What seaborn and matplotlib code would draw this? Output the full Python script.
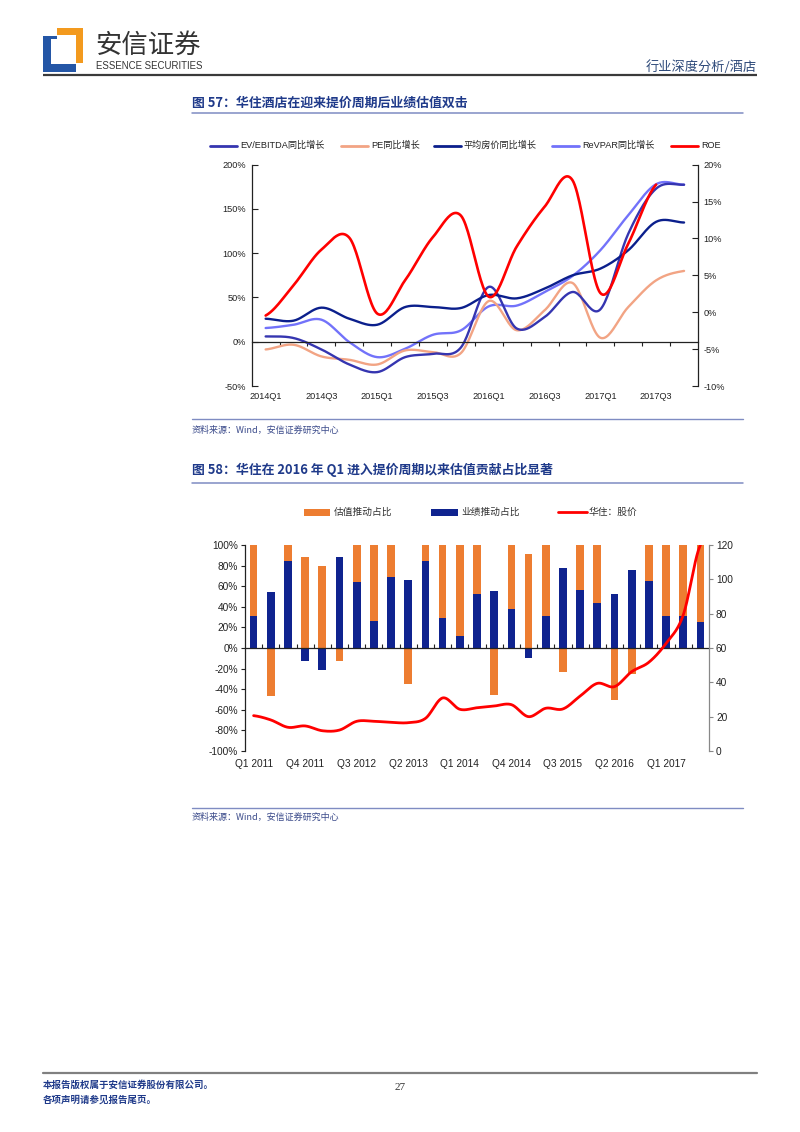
import numpy as np
import matplotlib
matplotlib.use("Agg")
import matplotlib.pyplot as plt
import seaborn as sns
from matplotlib.patches import Rectangle
from matplotlib.lines import Line2D

sns.set_style("ticks")
plt.rcParams["font.family"] = ["Liberation Sans", "Noto Sans CJK SC", "DejaVu Sans"]
plt.rcParams["axes.unicode_minus"] = False

# ---------------- Chart 1 data (图57) ----------------
quarters1 = ["2014Q1", "2014Q2", "2014Q3", "2014Q4", "2015Q1", "2015Q2", "2015Q3", "2015Q4",
             "2016Q1", "2016Q2", "2016Q3", "2016Q4", "2017Q1", "2017Q2", "2017Q3", "2017Q4"]
xlabels1 = ["2014Q1", "2014Q3", "2015Q1", "2015Q3", "2016Q1", "2016Q3", "2017Q1", "2017Q3"]
ev_ebitda_yoy = [6.0, 4.2, -8.7, -25.7, -34.3, -17.4, -13.6, -6.5, 62.0, 15.0, 27.9, 56.2, 36.6, 122.0, 173.0, 177.4]
pe_yoy = [-8.7, -3.4, -16.6, -20.4, -25.7, -9.8, -11.7, -12.8, 46.0, 13.0, 35.5, 66.4, 4.5, 39.2, 69.4, 80.0]
adr_yoy = [26.0, 23.8, 38.5, 26.0, 19.2, 39.2, 39.2, 38.1, 52.8, 49.0, 60.0, 75.0, 82.6, 103.4, 135.5, 134.7]
revpar_yoy = [15.5, 19.2, 24.9, -0.4, -17.4, -7.9, 7.9, 12.8, 40.0, 40.8, 56.2, 74.3, 103.4, 143.0, 178.0, 177.4]
roe = [-0.45, 3.66, 8.49, 10.1, -0.18, 4.34, 10.2, 13.1, 2.1, 8.9, 14.3, 17.9, 2.6, 9.3, 17.3]
left_ticks1 = [-50, 0, 50, 100, 150, 200]
right_ticks1 = [-10, -5, 0, 5, 10, 15, 20]

# ---------------- Chart 2 data (图58) ----------------
quarters2 = ["Q1 2011", "Q2 2011", "Q3 2011", "Q4 2011", "Q1 2012", "Q2 2012", "Q3 2012", "Q4 2012",
             "Q1 2013", "Q2 2013", "Q3 2013", "Q4 2013", "Q1 2014", "Q2 2014", "Q3 2014", "Q4 2014",
             "Q1 2015", "Q2 2015", "Q3 2015", "Q4 2015", "Q1 2016", "Q2 2016", "Q3 2016", "Q4 2016",
             "Q1 2017", "Q2 2017", "Q3 2017"]
valuation_share = [69, -47, 16, 88, 80, -13, 36, 74, 31, -35, 16, 71, 88, 48, -46, 62,
                   91, 69, -23, 44, 56, -50, -25, 35, 69, 69, 75]
performance_share = [31, 54, 84, -13, -21, 88, 64, 26, 69, 66, 84, 29, 12, 52, 55, 38,
                     -10, 31, 78, 56, 44, 52, 76, 65, 31, 31, 25]
price = [20.6, 18.1, 13.8, 14.6, 11.8, 12.2, 17.3, 17.3, 16.7, 16.5, 19.0, 30.9, 24.3, 25.2, 26.2, 27.0,
         20.0, 24.9, 24.5, 32.0, 39.4, 37.5, 46.2, 51.7, 62.7, 79.2, 120.0]
left_ticks2 = [-100, -80, -60, -40, -20, 0, 20, 40, 60, 80, 100]
right_ticks2 = [0, 20, 40, 60, 80, 100, 120]


def smooth(vals, n=24):
    """Catmull-Rom curve through the points (like Excel's smoothed line)."""
    y = np.asarray(vals, float)
    m = len(y)
    yp = np.concatenate([[y[0]], y, [y[-1]]])
    t = np.linspace(0, 1, n, endpoint=False)
    xs, ys = [], []
    for i in range(m - 1):
        p0, p1, p2, p3 = yp[i], yp[i + 1], yp[i + 2], yp[i + 3]
        seg = 0.5 * (2 * p1 + (-p0 + p2) * t + (2 * p0 - 5 * p1 + 4 * p2 - p3) * t ** 2
                     + (-p0 + 3 * p1 - 3 * p2 + p3) * t ** 3)
        xs.append(i + t)
        ys.append(seg)
    xs.append(np.array([m - 1.0]))
    ys.append(np.array([y[-1]]))
    return np.concatenate(xs), np.concatenate(ys)


W, H = 800, 1132
fig = plt.figure(figsize=(W / 100, H / 100), dpi=100)

# ---------------- page overlay (pixel coordinates) ----------------
ov = fig.add_axes([0, 0, 1, 1])
ov.set_xlim(0, W)
ov.set_ylim(H, 0)
ov.axis("off")

cjk = ["Noto Sans CJK SC", "DejaVu Sans"]
title_blue = "#1F3A8A"
rule_blue = "#7F8CC2"

# logo
logo_blue = "#2456A6"
logo_orange = "#F39A1E"
ov.add_patch(Rectangle((43, 36), 8, 36, color=logo_blue, lw=0))
ov.add_patch(Rectangle((43, 64), 33, 8, color=logo_blue, lw=0))
ov.add_patch(Rectangle((43, 36), 14, 3, color=logo_blue, lw=0))
ov.add_patch(Rectangle((57, 28), 26, 7, color=logo_orange, lw=0))
ov.add_patch(Rectangle((76, 28), 7, 35, color=logo_orange, lw=0))
ov.text(95, 45, "安信证券", family=cjk, fontsize=19, color="#333333", va="center", ha="left")
ov.text(96, 66, "ESSENCE SECURITIES", family=["Liberation Sans"],
        fontsize=6.9, color="#333333", va="center", ha="left")
ov.text(757, 67, "行业深度分析/酒店", family=cjk, fontsize=9.5, color="#2E4A7A", va="center", ha="right")
ov.plot([43, 757], [75, 75], color="#3A3A3A", lw=1.6, solid_capstyle="butt")

# titles, rules, sources
ov.text(192, 103, "图 57：华住酒店在迎来提价周期后业绩估值双击", family=cjk, fontsize=9.3,
        fontweight="bold", color=title_blue, va="center", ha="left")
ov.plot([192, 743], [113, 113], color=rule_blue, lw=1.1)
ov.plot([192, 743], [419, 419], color=rule_blue, lw=1.0)
ov.text(192, 430, "资料来源：Wind，安信证券研究中心", family=cjk, fontsize=6.5,
        color="#3A4A8A", va="center", ha="left", style="italic")

ov.text(192, 470, "图 58：华住在 2016 年 Q1 进入提价周期以来估值贡献占比显著", family=cjk, fontsize=9.3,
        fontweight="bold", color=title_blue, va="center", ha="left")
ov.plot([192, 743], [483, 483], color=rule_blue, lw=1.1)
ov.plot([192, 743], [808, 808], color=rule_blue, lw=1.0)
ov.text(192, 817, "资料来源：Wind，安信证券研究中心", family=cjk, fontsize=6.5,
        color="#3A4A8A", va="center", ha="left", style="italic")

# footer
ov.plot([43, 757], [1073, 1073], color="#808080", lw=1.6)
ov.text(43, 1085, "本报告版权属于安信证券股份有限公司。", family=cjk, fontsize=6.8,
        fontweight="bold", color=title_blue, va="center", ha="left")
ov.text(43, 1100, "各项声明请参见报告尾页。", family=cjk, fontsize=6.8,
        fontweight="bold", color=title_blue, va="center", ha="left")
ov.text(400, 1088, "27", family=["Liberation Serif"], fontsize=8, color="#333333", va="center", ha="center")

# ---------------- Chart 1 ----------------
c_ev = "#3535B0"
c_pe = "#F2A484"
c_adr = "#0B1F8C"
c_rev = "#7272FA"
c_roe = "#FF0000"

# legend 1 (manual, in page coords)
leg1 = [(210, "EV/EBITDA同比增长", c_ev), (341, "PE同比增长", c_pe), (434, "平均房价同比增长", c_adr),
        (552, "ReVPAR同比增长", c_rev), (671, "ROE", c_roe)]
for x0, lab, col in leg1:
    ov.add_line(Line2D([x0, x0 + 27], [145.5, 145.5], color=col, lw=2.0))
    ov.text(x0 + 30, 145.5, lab, fontsize=6.6, color="#222222", va="center", ha="left")

ax1 = fig.add_axes([251.7 / W, 1 - 386 / H, (698 - 251.7) / W, (386 - 164.7) / H])
ax1.patch.set_visible(False)
ax1.set_xlim(-0.5, 15.5)
ax1.set_ylim(-50, 200)

for vals, col in [(revpar_yoy, c_rev), (pe_yoy, c_pe), (ev_ebitda_yoy, c_ev), (adr_yoy, c_adr)]:
    sx, sy = smooth(vals)
    sns.lineplot(x=sx, y=sy, ax=ax1, color=col, lw=1.7, sort=False, estimator=None, legend=False)

ax1.set_yticks(left_ticks1)
ax1.set_yticklabels([f"{v}%" for v in left_ticks1])
ax1.tick_params(axis="y", direction="in", length=4, width=0.8, labelsize=6.6, pad=4, colors="#222222")
ax1.spines["top"].set_visible(False)
ax1.spines["right"].set_visible(False)
ax1.spines["left"].set_color("#222222")
ax1.spines["left"].set_linewidth(0.9)
ax1.spines["bottom"].set_position(("data", 0))
ax1.spines["bottom"].set_color("#222222")
ax1.spines["bottom"].set_linewidth(0.9)
ax1.set_xticks(np.arange(0.5, 15.5, 1.0))
ax1.set_xticklabels([])
ax1.tick_params(axis="x", direction="out", length=3, width=0.8, colors="#222222")
ax1.set_xlabel("")
ax1.set_ylabel("")

sec1 = ax1.secondary_xaxis("bottom")
sec1.set_xticks(np.arange(0, 16, 2), labels=xlabels1)
sec1.tick_params(length=0, labelsize=6.6, pad=4, colors="#222222")
sec1.spines["bottom"].set_visible(False)

ax1r = ax1.twinx()
ax1r.set_ylim(-10, 20)
sx, sy = smooth(roe)
sns.lineplot(x=sx, y=sy, ax=ax1r, color=c_roe, lw=1.9, sort=False, estimator=None, legend=False)
ax1r.set_yticks(right_ticks1)
ax1r.set_yticklabels([f"{v}%" for v in right_ticks1])
ax1r.tick_params(axis="y", direction="in", length=4, width=0.8, labelsize=6.6, pad=4, colors="#222222")
for s in ["top", "bottom", "left"]:
    ax1r.spines[s].set_visible(False)
ax1r.spines["right"].set_color("#222222")
ax1r.spines["right"].set_linewidth(0.9)
ax1r.set_ylabel("")

# ---------------- Chart 2 ----------------
c_val = "#ED7D31"
c_perf = "#0F238F"
c_price = "#FF0000"

leg2_y = 512
ov.add_patch(Rectangle((304, leg2_y - 3.5), 26, 7, color=c_val, lw=0))
ov.text(334, leg2_y, "估值推动占比", family=cjk, fontsize=7, color="#333333", va="center", ha="left")
ov.add_patch(Rectangle((431, leg2_y - 3.5), 27, 7, color=c_perf, lw=0))
ov.text(461, leg2_y, "业绩推动占比", family=cjk, fontsize=7, color="#333333", va="center", ha="left")
ov.add_line(Line2D([558, 587], [leg2_y, leg2_y], color=c_price, lw=2.0))
ov.text(589, leg2_y, "华住：股价", family=cjk, fontsize=7, color="#333333", va="center", ha="left")

ax2 = fig.add_axes([245 / W, 1 - 751 / H, (709 - 245) / W, (751 - 545) / H])
ax2.patch.set_visible(False)

# stacked look: orange drawn from 0 to (positive performance + valuation), then blue over it
val_drawn = [max(p, 0) + v if v > 0 else v for v, p in zip(valuation_share, performance_share)]
sns.barplot(x=quarters2, y=val_drawn, order=quarters2, ax=ax2, color=c_val, width=0.45,
            saturation=1, edgecolor="none", linewidth=0)
sns.barplot(x=quarters2, y=performance_share, order=quarters2, ax=ax2, color=c_perf, width=0.45,
            saturation=1, edgecolor="none", linewidth=0)
ax2.set_xlim(-0.5, len(quarters2) - 0.5)
ax2.set_ylim(-100, 100)
ax2.set_yticks(left_ticks2)
ax2.set_yticklabels([f"{v}%" for v in left_ticks2])
ax2.tick_params(axis="y", direction="out", length=3, width=0.8, labelsize=7.3, pad=2, colors="#222222")
ax2.spines["top"].set_visible(False)
ax2.spines["right"].set_visible(False)
ax2.spines["left"].set_color("#222222")
ax2.spines["left"].set_linewidth(0.9)
ax2.spines["bottom"].set_position(("data", 0))
ax2.spines["bottom"].set_color("#222222")
ax2.spines["bottom"].set_linewidth(0.9)
ax2.set_xticks(np.arange(0.5, len(quarters2) - 1, 1.0))
ax2.set_xticklabels([])
ax2.tick_params(axis="x", direction="in", length=3, width=0.8, colors="#222222")
ax2.set_xlabel("")
ax2.set_ylabel("")

sec2 = ax2.secondary_xaxis("bottom")
sec2.set_xticks(np.arange(0, len(quarters2), 3), labels=quarters2[::3])
sec2.tick_params(length=0, labelsize=7.3, pad=6, colors="#222222")
sec2.spines["bottom"].set_visible(False)

ax2r = ax2.twinx()
ax2r.set_ylim(0, 120)
sx, sy = smooth(price)
sns.lineplot(x=sx, y=sy, ax=ax2r, color=c_price, lw=2.0, sort=False, estimator=None, legend=False)
ax2r.set_xlim(-0.5, len(quarters2) - 0.5)
ax2r.set_yticks(right_ticks2)
ax2r.tick_params(axis="y", direction="out", length=3, width=0.8, labelsize=7.3, pad=2,
                 colors="#888888", labelcolor="#222222")
for s in ["top", "bottom", "left"]:
    ax2r.spines[s].set_visible(False)
ax2r.spines["right"].set_color("#888888")
ax2r.spines["right"].set_linewidth(0.9)
ax2r.set_ylabel("")

fig.savefig("out.png", dpi=100)
